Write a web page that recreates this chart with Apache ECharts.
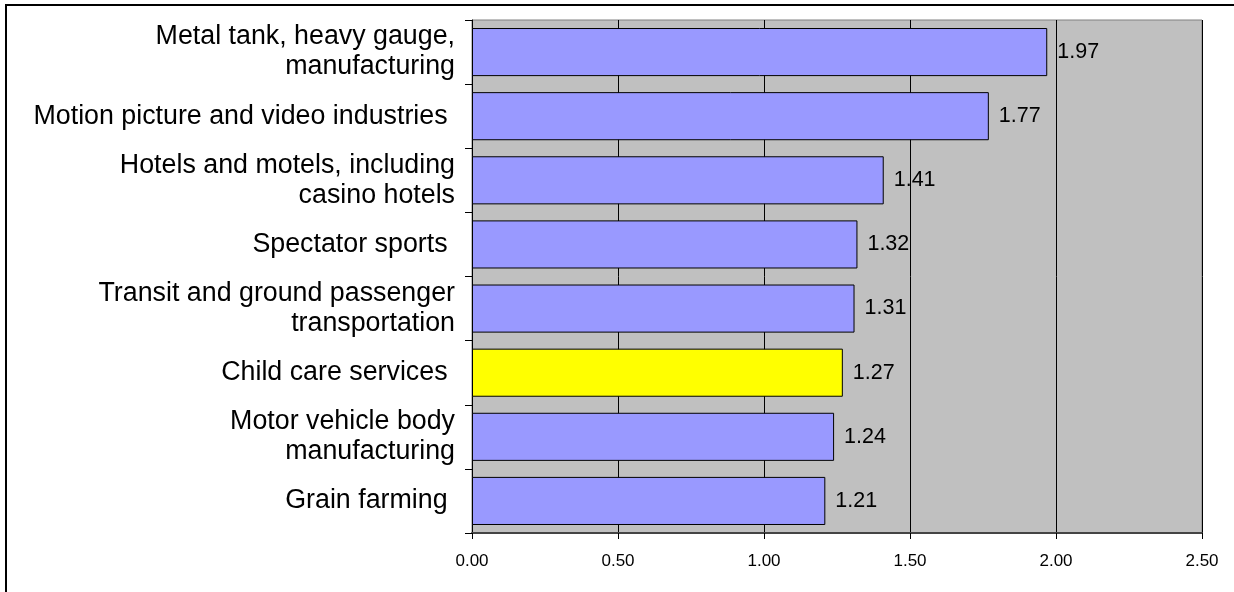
<!DOCTYPE html>
<html>
<head>
<meta charset="utf-8">
<script src="https://cdn.jsdelivr.net/npm/echarts@6/dist/echarts.min.js"></script>
<style>
html,body{margin:0;padding:0;background:#fff;}
#chart{width:1234px;height:592px;}
</style>
</head>
<body>
<div id="chart"></div>
<script>
const categories = [
  "Metal tank, heavy gauge,\nmanufacturing",
  "Motion picture and video industries ",
  "Hotels and motels, including\ncasino hotels",
  "Spectator sports ",
  "Transit and ground passenger\ntransportation",
  "Child care services ",
  "Motor vehicle body\nmanufacturing",
  "Grain farming "
];
const values = [1.97, 1.77, 1.41, 1.32, 1.31, 1.27, 1.24, 1.21];
const highlighted = ["Child care services "];
const xTicks = [0, 0.5, 1.0, 1.5, 2.0, 2.5];

const FONT = "'Liberation Sans', Arial, sans-serif";
const chart = echarts.init(document.getElementById('chart'), null, {renderer: 'canvas'});

const seriesData = values.map((v, i) => ({
  value: v,
  itemStyle: {
    color: highlighted.includes(categories[i]) ? '#ffff00' : '#9999ff'
  }
}));

chart.setOption({
  animation: false,
  backgroundColor: '#ffffff',
  textStyle: {fontFamily: FONT},
  graphic: [{
    type: 'rect',
    silent: true,
    z: -10,
    shape: {x: 6, y: 5, width: 1400, height: 800},
    style: {fill: 'none', stroke: '#000', lineWidth: 2}
  }],
  grid: {
    left: 472, top: 20, right: 32, bottom: 59,
    show: true,
    backgroundColor: '#c0c0c0',
    borderColor: '#808080',
    borderWidth: 1,
    containLabel: false
  },
  xAxis: {
    type: 'value',
    min: xTicks[0],
    max: xTicks[xTicks.length - 1],
    interval: xTicks[1] - xTicks[0],
    axisLine: {show: true, lineStyle: {color: '#444', width: 2}},
    axisTick: {show: true, length: 6, lineStyle: {color: '#000', width: 1}},
    axisLabel: {
      fontSize: 17, color: '#000', fontFamily: FONT, margin: 20,
      formatter: v => v.toFixed(2)
    },
    splitLine: {show: true, lineStyle: {color: '#000', width: 1}}
  },
  yAxis: {
    type: 'category',
    inverse: true,
    data: categories,
    axisLine: {show: true, lineStyle: {color: '#000', width: 1}},
    axisTick: {show: true, length: 7, lineStyle: {color: '#000'}},
    axisLabel: {
      fontSize: 26.8, color: '#000', fontFamily: FONT, margin: 17,
      lineHeight: 30, align: 'right'
    },
    splitLine: {show: false}
  },
  series: [{
    type: 'bar',
    data: seriesData,
    barCategoryGap: '25%',
    itemStyle: {borderColor: '#000', borderWidth: 1},
    label: {
      show: true, position: 'right', distance: 10,
      fontSize: 21.5, color: '#000', fontFamily: FONT,
      formatter: p => p.value.toFixed(2)
    }
  }]
});
</script>
</body>
</html>
